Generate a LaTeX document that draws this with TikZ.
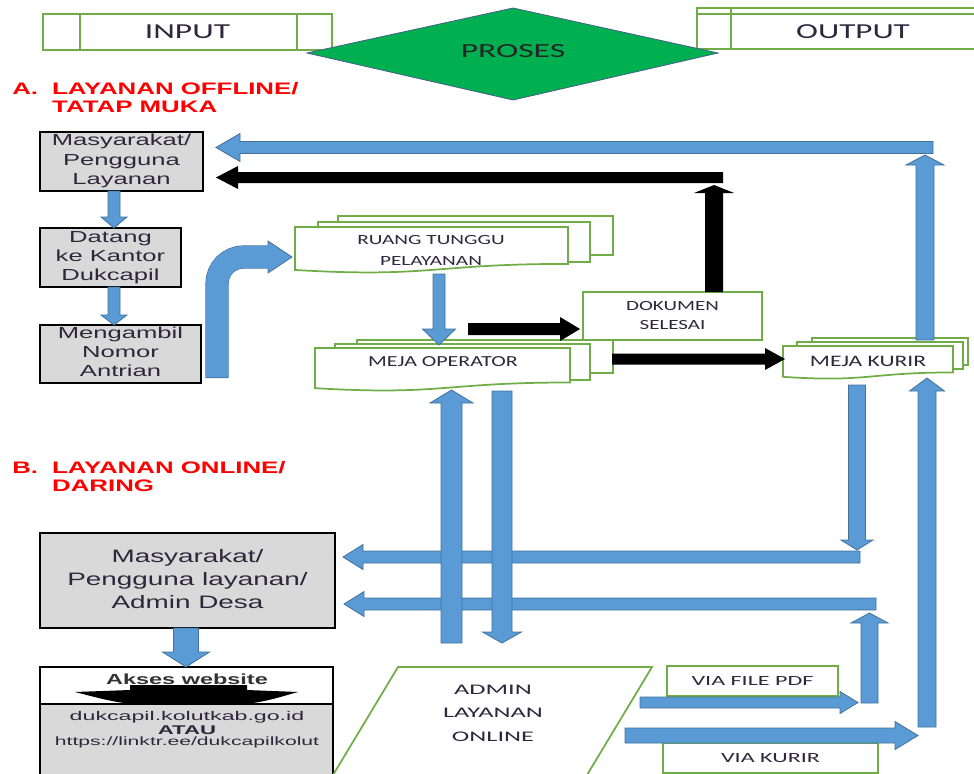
\documentclass[tikz,border=0pt]{standalone}
\usepackage{fontspec}
\usepackage{graphicx}
\setmainfont{Liberation Sans}
\newfontfamily\calf{Carlito}
\newcommand\sx[2]{\scalebox{#1}[1]{#2}}
\definecolor{grn}{RGB}{112,173,71}
\definecolor{blu}{RGB}{91,155,213}
\definecolor{blud}{RGB}{65,113,156}
\definecolor{gry}{RGB}{217,217,217}
\definecolor{txc}{RGB}{45,40,60}
\definecolor{prs}{RGB}{0,176,80}
\definecolor{prsd}{RGB}{70,95,140}
% box from pixel corners
\newcommand\bx[7]{\node[#2, minimum width={(#5-#3)*0.75pt}, minimum height={(#6-#4)*0.75pt}, inner sep=0pt, outer sep=0pt] (#1) at ({(#3+#5)/2},{(#4+#6)/2}) {#7};}
% vertical block arrow: style, x, ystart, ytip, shaft, head, headlength
\newcommand\vArr[7]{%
 \pgfmathsetmacro\arS{sign(#4-#3)}%
 \pgfmathsetmacro\arB{#4-\arS*#7}%
 \path[#1] ({#2-#5/2},#3) -- ({#2-#5/2},\arB) -- ({#2-#6/2},\arB) -- (#2,#4) -- ({#2+#6/2},\arB) -- ({#2+#5/2},\arB) -- ({#2+#5/2},#3) -- cycle;}
% horizontal block arrow: style, y, xstart, xtip, shaft, head, headlength
\newcommand\hArr[7]{%
 \pgfmathsetmacro\arS{sign(#4-#3)}%
 \pgfmathsetmacro\arB{#4-\arS*#7}%
 \path[#1] (#3,{#2-#5/2}) -- (\arB,{#2-#5/2}) -- (\arB,{#2-#6/2}) -- (#4,#2) -- (\arB,{#2+#6/2}) -- (\arB,{#2+#5/2}) -- (#3,{#2+#5/2}) -- cycle;}
% document (wavy bottom) front: x1 y1 x2 h
\newcommand\docfront[4]{%
 \path[grnbox] (#1,#2) -- (#3,#2) -- (#3,{#2+0.802*#4}) .. controls ({(#1+#3)/2},{#2+0.802*#4}) and ({(#1+#3)/2},{#2+1.108*#4}) .. (#1,{#2+0.934*#4}) -- cycle;}
\begin{document}
\begin{tikzpicture}[x=0.75pt,y=-0.75pt,
  grnbox/.style={draw=grn, line width=1.3pt, fill=white},
  gbox/.style={draw=black, line width=1.4pt, fill=gry},
  tx/.style={text=txc, inner sep=0pt, align=center},
  barr/.style={fill=blu, draw=blud, line width=0.6pt},
  karr/.style={fill=black},
  hd/.style={text=red, inner sep=0pt, anchor=base west, font=\bfseries\fontsize{12.5}{13.5}\selectfont}
]
\useasboundingbox (0,0) rectangle (974,774);

% ---------- header ----------
\bx{inp}{grnbox,tx,font=\calf\fontsize{16}{18}\selectfont}{43}{14}{332}{50}{\sx{1.57}{INPUT}}
\draw[grn, line width=1.3pt] (80,14) -- (80,50) (297,14) -- (297,50);
\bx{outp}{grnbox}{697}{8}{990}{49}{}
\draw[grn, line width=1.3pt] (697,14) -- (990,14) (731,8) -- (731,49);
\node[tx, font=\calf\fontsize{16}{18}\selectfont] (outt) at (853,32) {\sx{1.55}{OUTPUT}};
\path[fill=prs, draw=prsd, line width=0.6pt] (307,53) -- (513,8) -- (718,53) -- (513,100) -- cycle;
\node[text=black!85, inner sep=0pt, font=\calf\fontsize{15}{17}\selectfont] (proses) at (513,51) {\sx{1.68}{PROSES}};

% ---------- headings ----------
\node[hd] (hA) at (12,94) {\sx{1.55}{\begin{tabular}[t]{@{}l@{\hspace{6.8pt}}l@{}}A.&LAYANAN OFFLINE/\\&TATAP MUKA\end{tabular}}};
\node[hd] (hB) at (12,473) {\sx{1.55}{\begin{tabular}[t]{@{}l@{\hspace{6.8pt}}l@{}}B.&LAYANAN ONLINE/\\&DARING\end{tabular}}};

% ---------- offline gray boxes ----------
\bx{m1}{gbox,tx,font=\fontsize{12}{14.6}\selectfont}{40}{133}{203}{190}{\sx{1.6}{\begin{tabular}{@{}c@{}}Masyarakat/\\Pengguna\\Layanan\end{tabular}}}
\bx{m2}{gbox,tx,font=\fontsize{12}{14.3}\selectfont}{40}{228}{181}{287}{\sx{1.6}{\begin{tabular}{@{}c@{}}Datang\\ke Kantor\\Dukcapil\end{tabular}}}
\bx{m3}{gbox,tx,font=\fontsize{12}{14.3}\selectfont}{40}{325}{201}{383}{\sx{1.6}{\begin{tabular}{@{}c@{}}Mengambil\\Nomor\\Antrian\end{tabular}}}

% ---------- multi documents ----------
% ruang tunggu
\path[grnbox] (338,216) rectangle (613,255);
\path[grnbox] (318,222) rectangle (590,262);
\docfront{295}{227}{568}{46}
\node[tx, font=\calf\fontsize{10.5}{15.75}\selectfont] (ruang) at (431,250.5) {\sx{1.52}{\begin{tabular}{@{}c@{}}RUANG TUNGGU\\PELAYANAN\end{tabular}}};
% meja operator
\path[grnbox] (357,340) rectangle (613,373);
\path[grnbox] (335,344) rectangle (590,380);
\docfront{315}{348}{570}{43}
\node[tx, font=\calf\fontsize{11.5}{13}\selectfont] (oper) at (443,362) {\sx{1.43}{MEJA OPERATOR}};
% dokumen selesai
\bx{dok}{grnbox,tx,font=\calf\fontsize{10.5}{14.25}\selectfont}{583}{292}{762}{340}{\sx{1.5}{\begin{tabular}{@{}c@{}}DOKUMEN\\SELESAI\end{tabular}}}
% meja kurir
\path[grnbox] (812,338) rectangle (968,365);
\path[grnbox] (797,342) rectangle (963,369);
\docfront{783}{346}{953}{33}
\node[tx, font=\calf\fontsize{12}{13}\selectfont] (kurir) at (868,361) {\sx{1.47}{MEJA KURIR}};

% ---------- online part ----------
\bx{on1}{gbox,tx,font=\fontsize{13.5}{17.3}\selectfont}{40}{533}{335}{628}{\sx{1.55}{\begin{tabular}{@{}c@{}}Masyarakat/\\Pengguna layanan/\\Admin Desa\end{tabular}}}
\path[fill=gry] (40,704) rectangle (333,780);
\draw[black, line width=1.4pt] (40,667) rectangle (333,780);
\draw[black, line width=0.8pt] (40,704) -- (333,704);
\node[tx, text=black!80, font=\bfseries\fontsize{11}{12}\selectfont] (akses) at (187,679) {\sx{1.6}{Akses website}};
\path[fill=black] (130,685) -- (247,685) -- (247,690) -- (298,692) .. controls (280,697) and (262,703) .. (242,704) -- (135,704) .. controls (115,703) and (95,697) .. (75,692) -- (130,690) -- cycle;
\node[tx, font=\fontsize{9.5}{10}\selectfont] (url1) at (187,717) {\sx{1.83}{dukcapil.kolutkab.go.id}};
\node[tx, font=\bfseries\fontsize{9.5}{10}\selectfont] (atau) at (187,730) {\sx{1.75}{ATAU}};
\node[tx, font=\fontsize{9}{10}\selectfont] (url2) at (187,742) {\sx{1.76}{https://linktr.ee/dukcapilkolut}};

\path[grnbox] (398,667) -- (652,667) -- (584,780) -- (330,780) -- cycle;
\node[tx, font=\calf\fontsize{11}{17.6}\selectfont] (admin) at (493,713) {\sx{1.8}{\begin{tabular}{@{}c@{}}ADMIN\\LAYANAN\\ONLINE\end{tabular}}};
\bx{pdf}{grnbox,tx,font=\calf\fontsize{10.5}{12}\selectfont}{667}{666}{838}{696}{\sx{1.72}{VIA FILE PDF}}
\bx{vk}{grnbox,tx,font=\calf\fontsize{10.5}{12}\selectfont}{663}{743}{878}{773}{\sx{1.72}{VIA KURIR}}

% ---------- arrows ----------
\vArr{barr}{114}{191}{228}{12}{26}{11}
\vArr{barr}{114}{287}{325}{12}{26}{10}
% bent arrow
\draw[blud, line width=23.2*0.75pt, rounded corners=20pt] (217,378) -- (217,257) -- (270,257);
\draw[blu, line width=22*0.75pt, rounded corners=20pt] (217,377.4) -- (217,257) -- (270.5,257);
\path[fill=blu] (268,241) -- (292,257) -- (268,273) -- cycle;
\draw[blud, line width=0.6pt] (268,246) -- (268,241) -- (292,257) -- (268,273) -- (268,268);
\vArr{barr}{439}{274}{345}{12}{33}{16}
% top returns
\hArr{barr}{147.5}{933}{216}{12}{28}{24}
\vArr{barr}{925}{340}{155}{18}{38}{10}
\hArr{karr}{177.5}{723}{216}{11}{23}{22}
\vArr{karr}{714}{292}{185}{18}{40}{8}
\hArr{karr}{329}{468}{580}{12}{24}{20}
\hArr{karr}{359}{612}{785}{11}{22}{20}
% online returns
\hArr{barr}{557}{860}{343}{12}{25}{20}
\hArr{barr}{604}{876}{344}{12}{25}{20}
\vArr{barr}{451.5}{643}{390}{21}{43}{13}
\vArr{barr}{502}{391}{643}{20}{39}{11}
\vArr{barr}{857}{385}{550}{17}{32}{10}
\vArr{barr}{869.5}{703}{613}{17}{37}{10}
\hArr{barr}{702.5}{640}{858}{11}{22}{18}
\hArr{barr}{735.5}{625}{918}{15}{28}{23}
\vArr{barr}{927}{727}{378}{18}{35}{13}
\vArr{barr}{186}{628}{667}{25}{47}{15}
\end{tikzpicture}
\end{document}
